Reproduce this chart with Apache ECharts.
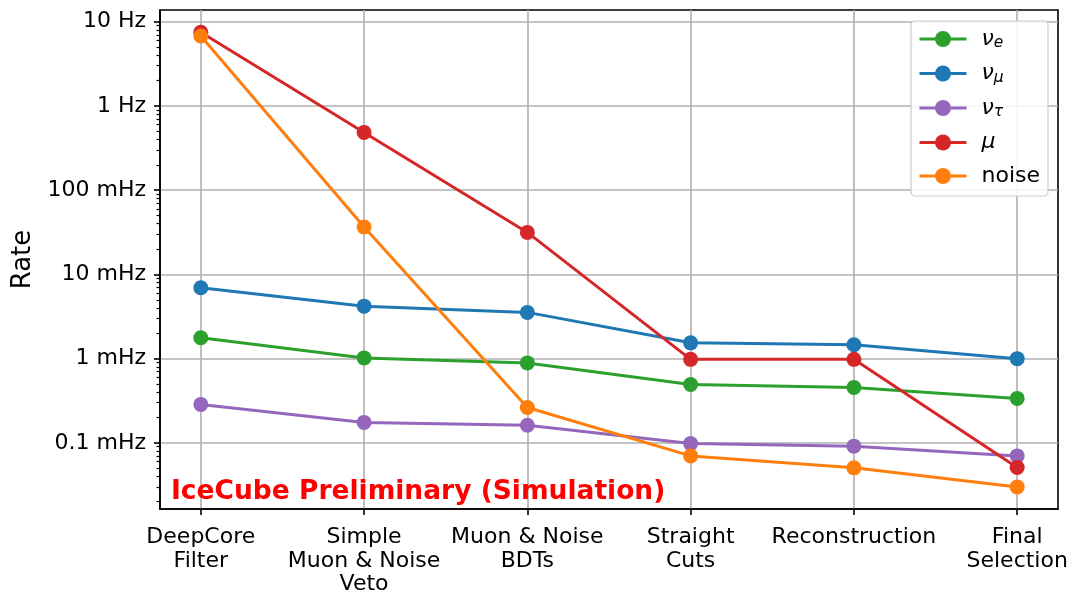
<!DOCTYPE html>
<html>
<head>
<meta charset="utf-8">
<script src="https://cdn.jsdelivr.net/npm/echarts@6/dist/echarts.min.js"></script>
<style>
html,body{margin:0;padding:0;background:#fff;}
#c{width:1075px;height:592px;}
</style>
</head>
<body>
<div id="c"></div>
<script>
// Selection stages (x-axis categories)
const categories = ["DeepCore\nFilter", "Simple\nMuon & Noise\nVeto", "Muon & Noise\nBDTs", "Straight\nCuts", "Reconstruction", "Final\nSelection"];
// Rates in mHz
const nuE   = [1.77, 1.02, 0.89, 0.494, 0.455, 0.337];
const nuMu  = [6.93, 4.2, 3.54, 1.54, 1.46, 1.0];
const nuTau = [0.286, 0.175, 0.162, 0.098, 0.0914, 0.070];
const muon  = [7480, 485, 31.5, 0.98, 0.98, 0.051];
const noise = [6760, 36.5, 0.263, 0.070, 0.0505, 0.030];
// y tick values (mHz) and labels
const yTickValues = [0.1, 1, 10, 100, 1000, 10000];
const yTickLabels = ["0.1 mHz", "1 mHz", "10 mHz", "100 mHz", "1 Hz", "10 Hz"];
const yMinorValues = [0.02,0.03,0.04,0.05,0.06,0.07,0.08,0.09,0.2,0.3,0.4,0.5,0.6,0.7,0.8,0.9,2,3,4,5,6,7,8,9,20,30,40,50,60,70,80,90,200,300,400,500,600,700,800,900,2000,3000,4000,5000,6000,7000,8000,9000];
const xIdx = [0,1,2,3,4,5];

const FONT = 'DejaVu Sans';
const seriesDefs = [
  {name:'nu_e', data:nuE, color:'#2ca02c'},
  {name:'nu_mu', data:nuMu, color:'#1f77b4'},
  {name:'nu_tau', data:nuTau, color:'#9467bd'},
  {name:'mu', data:muon, color:'#d62728'},
  {name:'noise', data:noise, color:'#ff7f0e'}
];
const legendText = {
  nu_e: '{nu|ν}{sub|e}',
  nu_mu: '{nu|ν}{sub|μ}',
  nu_tau: '{nu|ν}{sub|τ}',
  mu: '{nu|μ}',
  noise: '{txt|noise}'
};

const chart = echarts.init(document.getElementById('c'), null, {renderer:'canvas'});
const option = {
  animation: false,
  backgroundColor: '#fff',
  textStyle: {fontFamily: FONT},
  grid: {left:160, top:10, right:17, bottom:83, outerBoundsMode:'none', containLabel:false,
    show:true, borderColor:'#000', borderWidth:1.6, backgroundColor:'transparent'},
  title: {
    text: 'IceCube Preliminary (Simulation)',
    left: 166, top: 474,
    textStyle: {color:'#ff0000', fontWeight:'bold', fontSize:26.5, fontFamily: FONT}
  },
  legend: {
    orient:'vertical', right:27, top:21,
    padding:[7,8,9,7],
    backgroundColor:'rgba(255,255,255,0.85)',
    borderColor:'#cccccc', borderWidth:1.2, borderRadius:4,
    itemWidth:47, itemHeight:20, itemGap:11.5,
    lineStyle:{width:3},
    data: seriesDefs.map(s=>s.name),
    formatter: name => legendText[name],
    textStyle: {
      fontFamily: FONT, fontSize:22, color:'#000',
      rich: {
        nu: {fontFamily: FONT, fontStyle:'italic', fontSize:22, color:'#000', lineHeight:24, padding:[0,0,0,10]},
        sub: {fontFamily: FONT, fontStyle:'italic', fontSize:15.5, color:'#000', verticalAlign:'bottom', lineHeight:13},
        txt: {fontFamily: FONT, fontSize:22, color:'#000', lineHeight:24, padding:[0,0,0,10]}
      }
    }
  },
  xAxis: {
    type:'value', min:-0.25, max:5.25,
    axisLine:{show:true, onZero:false, lineStyle:{color:'#000', width:1.6}},
    axisTick:{show:true, length:6, lineStyle:{color:'#000', width:1.6}, customValues: xIdx},
    axisLabel:{show:true, customValues: xIdx, formatter: v => categories[Math.round(v)] || '',
      fontFamily: FONT, fontSize:22, color:'#000', lineHeight:23.5, margin:17},
    splitLine:{show:true, lineStyle:{color:'#b0b0b0', width:1.6}}
  },
  yAxis: [{
    type:'log', logBase:10, min:0.0164, max:13770,
    name:'Rate', nameLocation:'middle', nameGap:124,
    nameTextStyle:{fontFamily: FONT, fontSize:26, color:'#000'},
    axisLine:{show:true, onZero:false, lineStyle:{color:'#000', width:1.6}},
    axisTick:{show:true, length:6, lineStyle:{color:'#000', width:1.6}, customValues: yTickValues},
    axisLabel:{show:true, customValues: yTickValues, fontFamily: FONT, fontSize:22, color:'#000', margin:14,
      formatter: v => { const i = yTickValues.findIndex(t => Math.abs(Math.log10(t) - Math.log10(v)) < 1e-6); return i>=0 ? yTickLabels[i] : ''; }},
    splitLine:{show:true, lineStyle:{color:'#b0b0b0', width:1.6}},
    minorTick:{show:false}
  },{
    type:'log', logBase:10, min:0.0164, max:13770, position:'left', offset:0,
    axisLine:{show:false, onZero:false},
    axisTick:{show:true, length:3.5, lineStyle:{color:'#000', width:1.2}, customValues: yMinorValues},
    axisLabel:{show:false},
    splitLine:{show:false}
  }],
  series: seriesDefs.map(s => ({
    name: s.name, type:'line', yAxisIndex:0,
    data: xIdx.map(i => [i, s.data[i]]),
    symbol:'circle', symbolSize:15,
    lineStyle:{color:s.color, width:3},
    itemStyle:{color:s.color},
    color: s.color
  }))
};
chart.setOption(option);
</script>
</body>
</html>
